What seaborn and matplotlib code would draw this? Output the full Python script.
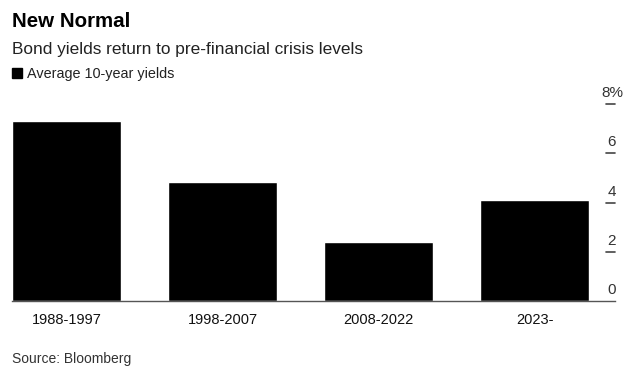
import matplotlib
matplotlib.use("Agg")
import matplotlib.pyplot as plt
import matplotlib.transforms as mtransforms
from matplotlib.patches import Rectangle
import seaborn as sns
import pandas as pd

categories = ["1988-1997", "1998-2007", "2008-2022", "2023-"]
yields = [7.3, 4.85, 2.4, 4.1]
ytick_values = [0, 2, 4, 6, 8]
ytick_labels = ["0", "2", "4", "6", "8%"]

sns.set_theme(style="white")
plt.rcParams["font.family"] = ["Liberation Sans", "DejaVu Sans"]

df = pd.DataFrame({"period": categories, "yield": yields})

W, H = 643, 377
fig = plt.figure(figsize=(W / 100, H / 100), dpi=100)
ax = fig.add_axes([12 / W, 76 / H, (615 - 12) / W, (301 - 104) / H])

sns.barplot(data=df, x="period", y="yield", color="black", width=0.70,
            saturation=1, ax=ax)
ax.set_xlim(-0.35, 3.515)
ax.set_ylim(0, 8)
for s in ["top", "right", "left"]:
    ax.spines[s].set_visible(False)
ax.spines["bottom"].set_color("#555555")
ax.spines["bottom"].set_linewidth(1.0)
ax.set_xlabel("")
ax.set_ylabel("")
ax.set_yticks([])
ax.tick_params(axis="x", length=0, pad=9, labelsize=10.5, labelcolor="#111111")

# right-side tick marks with labels above them
trans = mtransforms.blended_transform_factory(ax.transAxes, ax.transData)
x0 = 1 - 9 / (615 - 12)
for v, lab in zip(ytick_values, ytick_labels):
    if v > 0:
        ax.plot([x0, 1.0], [v, v], transform=trans, color="#444444", lw=1.2,
                clip_on=False)
    t = ax.text(1 - 3 / (615 - 12), v, lab, ha="center", va="bottom",
                fontsize=11, color="#333333")
    t.set_transform(trans + mtransforms.ScaledTranslation(0, 4 / 100, fig.dpi_scale_trans))

fig.text(12 / W, 1 - 27 / H, "New Normal", fontsize=14.8, fontweight="bold",
         color="black", va="baseline")
fig.text(12 / W, 1 - 54 / H, "Bond yields return to pre-financial crisis levels",
         fontsize=12.4, color="#222222", va="baseline")
fig.add_artist(Rectangle((12 / W, 1 - 78 / H), 10 / W, 10 / H,
                         transform=fig.transFigure, color="black"))
fig.text(27 / W, 1 - 78 / H, "Average 10-year yields", fontsize=10.4,
         color="#222222", va="baseline")
fig.text(12 / W, 1 - 363 / H, "Source: Bloomberg", fontsize=10,
         color="#333333", va="baseline")

fig.savefig("out.png", dpi=100)
